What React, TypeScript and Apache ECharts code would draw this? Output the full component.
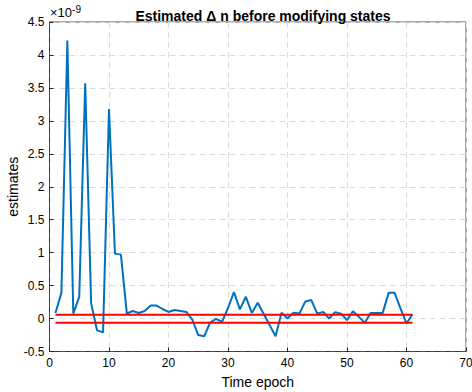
import React, { useEffect, useRef } from "react";
import * as echarts from "echarts";

const epochs: number[] = Array.from({ length: 61 }, (_, i) => i + 1);
// estimates in units of 1e-9
const estimates: number[] = [
  0.085, 0.39, 4.22, 0.076, 0.33, 3.57, 0.23, -0.18, -0.21, 3.18,
  0.985, 0.97, 0.076, 0.115, 0.085, 0.115, 0.197, 0.197, 0.145, 0.1,
  0.13, 0.115, 0.1, -0.015, -0.25, -0.27, -0.06, -0.005, -0.05, 0.16,
  0.4, 0.14, 0.33, 0.086, 0.24, 0.07, -0.1, -0.27, 0.09, 0.0,
  0.09, 0.075, 0.26, 0.28, 0.075, 0.1, 0.0, 0.095, 0.075, -0.025,
  0.11, 0.025, -0.065, 0.086, 0.086, 0.086, 0.39, 0.39, 0.15, -0.075,
  0.065,
];
const upperBound = 0.057;
const lowerBound = -0.065;
const boundRange: number[] = [1, 61];

const titleText = "Estimated \u0394 n before modifying states";
const xLabel = "Time epoch";
const yLabel = "estimates";

export default function App() {
  const ref = useRef<HTMLDivElement>(null);
  useEffect(() => {
    if (!ref.current) return;
    const chart = echarts.init(ref.current, undefined, { renderer: "svg" });
    const font = "'Liberation Sans', Arial, Helvetica, sans-serif";
    const gridLine = { show: true, lineStyle: { color: "#dcdcdc", type: [6, 4] as any, width: 1 } };
    chart.setOption({
      animation: false,
      backgroundColor: "#ffffff",
      textStyle: { fontFamily: font },
      title: {
        text: titleText,
        left: 258,
        top: 4,
        textAlign: "center",
        textStyle: { fontSize: 14, fontWeight: "bold", color: "#000", fontFamily: font },
      },
      grid: {
        left: 49.5,
        right: 6,
        top: 22,
        bottom: 40.5,
        show: true,
        borderColor: "#262626",
        borderWidth: 0.8,
        containLabel: false,
        outerBoundsMode: "none",
      } as any,
      xAxis: {
        type: "value",
        min: 0,
        max: 70,
        interval: 10,
        name: xLabel,
        nameLocation: "middle",
        nameGap: 23,
        nameMoveOverlap: false,
        nameTextStyle: { fontSize: 14, color: "#000", fontFamily: font },
        axisLine: { show: true, onZero: false, lineStyle: { color: "#262626", width: 0.8 } },
        axisTick: { show: true, inside: true, length: 4, lineStyle: { color: "#262626" } },
        axisLabel: { fontSize: 12, color: "#000", margin: 5, fontFamily: font },
        splitLine: gridLine,
      } as any,
      yAxis: {
        type: "value",
        min: -0.5,
        max: 4.5,
        interval: 0.5,
        name: yLabel,
        nameLocation: "middle",
        nameGap: 30,
        nameMoveOverlap: false,
        nameTextStyle: { fontSize: 14, color: "#000", fontFamily: font },
        axisLine: { show: true, onZero: false, lineStyle: { color: "#262626", width: 0.8 } },
        axisTick: { show: true, inside: true, length: 4, lineStyle: { color: "#262626" } },
        axisLabel: {
          fontSize: 12,
          color: "#000",
          margin: 5,
          fontFamily: font,
          formatter: (v: number) => String(Math.round(v * 10) / 10),
        },
        splitLine: gridLine,
      } as any,
      graphic: [
        {
          type: "text",
          left: 50,
          top: 4,
          style: {
            text: "\u00d710{sup|-9}",
            font: `13px ${font}`,
            fill: "#000",
            rich: { sup: { fontSize: 10, verticalAlign: "top", padding: [0, 0, 7, 0] } },
          } as any,
        },
      ],
      series: [
        {
          type: "line",
          data: epochs.map((e, i) => [e, estimates[i]]),
          showSymbol: false,
          symbol: "none",
          lineStyle: { color: "#0072BD", width: 2 },
          z: 3,
        },
        {
          type: "line",
          data: boundRange.map((e) => [e, upperBound]),
          showSymbol: false,
          symbol: "none",
          lineStyle: { color: "#FF0000", width: 2 },
          z: 4,
        },
        {
          type: "line",
          data: boundRange.map((e) => [e, lowerBound]),
          showSymbol: false,
          symbol: "none",
          lineStyle: { color: "#FF0000", width: 2 },
          z: 4,
        },
      ],
    });
    return () => chart.dispose();
  }, []);
  return <div ref={ref} style={{ width: 472, height: 392, position: "fixed", left: 0, top: 0 }} />;
}
